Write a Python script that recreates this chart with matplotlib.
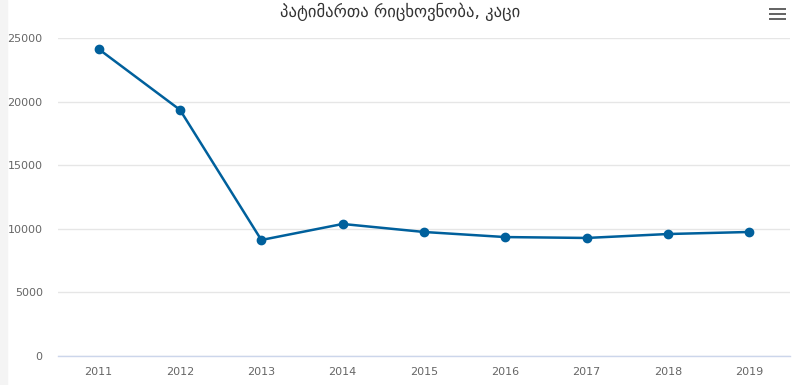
import matplotlib.pyplot as plt
from matplotlib.patches import Rectangle

# data
years = ['2011', '2012', '2013', '2014', '2015', '2016', '2017', '2018', '2019']
prisoners = [24130, 19350, 9120, 10380, 9750, 9350, 9280, 9590, 9750]
y_ticks = [0, 5000, 10000, 15000, 20000, 25000]

fig = plt.figure(figsize=(7.96, 3.85), dpi=100)
ax = fig.add_axes([58 / 796, 29 / 385, 732 / 796, 318 / 385])

x = list(range(len(years)))
ax.plot(x, prisoners, color='#00609c', linewidth=1.8, marker='o', markersize=6, zorder=3)

ax.set_xlim(-0.5, len(years) - 0.5)
ax.set_ylim(0, 25000)
ax.set_xticks(x)
ax.set_xticklabels(years)
ax.set_yticks(y_ticks)
ax.set_yticklabels([str(v) for v in y_ticks])
ax.tick_params(axis='both', length=0, labelsize=8, labelcolor='#666666')
ax.tick_params(axis='x', pad=8)
ax.tick_params(axis='y', pad=11)

ax.grid(True, axis='y', color='#e6e6e6', linewidth=1)
ax.set_axisbelow(True)
for side in ['top', 'right', 'left']:
    ax.spines[side].set_visible(False)
ax.spines['bottom'].set_color('#ccd6eb')
ax.spines['bottom'].set_linewidth(1)

fig.text(400 / 796, 1 - 12 / 385, 'პატიმართა რიცხოვნობა, კაცი',
         ha='center', va='center', fontsize=12, color='#333333')

# thin grey strip at the left edge
fig.patches.append(Rectangle((0, 0), 7 / 796, 1, transform=fig.transFigure,
                             color='#f4f4f4', zorder=0))

# menu icon
for yy in [9, 14, 19]:
    fig.patches.append(Rectangle((769 / 796, 1 - (yy + 1.25) / 385), 17 / 796, 2.5 / 385,
                                 transform=fig.transFigure, color='#666666', linewidth=0))

fig.savefig('out.png', dpi=100)
